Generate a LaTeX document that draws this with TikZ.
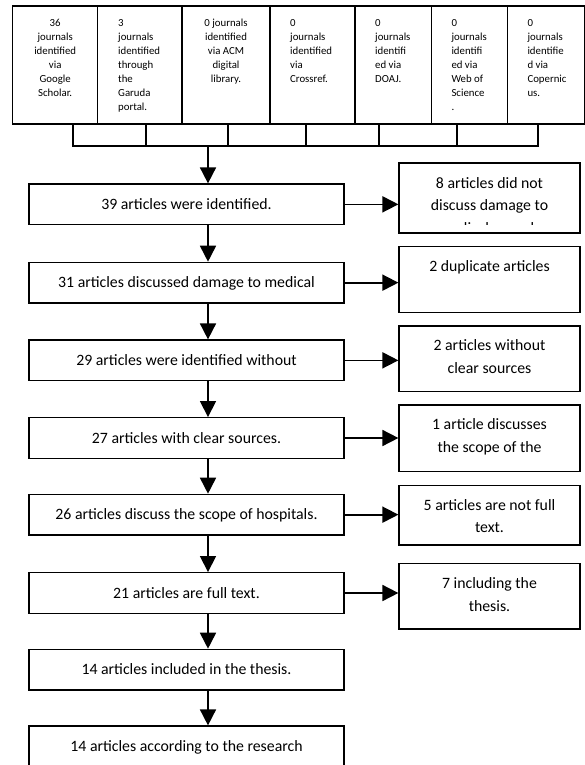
\documentclass[tikz,border=0pt]{standalone}
\usepackage{fontspec}
\setmainfont{Carlito}
\usetikzlibrary{arrows.meta,calc}
\begin{document}
\begin{tikzpicture}[x=1pt,y=-1pt,
  box/.style={draw=black,line width=1.2pt,rectangle,inner sep=0pt},
  mainbox/.style={box,minimum width=315pt,minimum height=40.7pt,font=\fontsize{15.8}{22.4}\selectfont,text height=12pt,text depth=1.6pt},
  sidebox/.style={box,minimum width=181pt},
  sidetext/.style={inner sep=0pt,text width=178pt,align=flush center,anchor=base,font=\fontsize{15.8}{22.4}\selectfont},
  topbox/.style={box,minimum height=118pt},
  toptext/.style={inner sep=0pt,font=\fontsize{10.8}{13.9}\selectfont},
  topleft/.style={toptext,text width=70pt,align=flush left,anchor=base west},
  topmid/.style={toptext,text width=80pt,align=flush center,anchor=base},
  link/.style={line width=1.7pt},
  arr/.style={link,-{Triangle[length=16pt,width=16pt]}}]
\useasboundingbox (0,0) rectangle (584,765);

% top sources row
\node[topbox,minimum width=85pt]   (t1) at (55.2,65) {};
\node[topbox,minimum width=84.3pt] (t2) at (139.85,65) {};
\node[topbox,minimum width=88pt]   (t3) at (226,65) {};
\node[topbox,minimum width=85pt]   (t4) at (312.5,65) {};
\node[topbox,minimum width=76.3pt] (t5) at (393.15,65) {};
\node[topbox,minimum width=76pt]   (t6) at (469.3,65) {};
\node[topbox,minimum width=77.7pt] (t7) at (546.15,65) {};

\node[topmid]  (l1) at (55.2,26.7) {36\\journals\\identified\\via\\Google\\Scholar.};
\node[topleft] (l2) at (118,26.7) {3\\journals\\identified\\through\\the\\Garuda\\portal.};
\node[topmid]  (l3) at (226,26.7) {0 journals\\identified\\via ACM\\digital\\library.};
\node[topleft] (l4) at (290,26.7) {0\\journals\\identified\\via\\Crossref.};
\node[topleft] (l5) at (375,26.7) {0\\journals\\identifi\\ed via\\DOAJ.};
\node[topleft] (l6) at (451.3,26.7) {0\\journals\\identifi\\ed via\\Web of\\Science\\.};
\node[topleft] (l7) at (527.3,26.7) {0\\journals\\identifie\\d via\\Copernic\\us.};

% bracket
\coordinate (c1) at (72.7,146);
\coordinate (c2) at (146,146);
\coordinate (c3) at (228,146);
\coordinate (c4) at (306,146);
\coordinate (c5) at (379,146);
\coordinate (c6) at (456.7,146);
\coordinate (c7) at (538,146);
\coordinate (hub) at (208,146);
\draw[link] (t1.south -| c1) -- (c1) -- (c7) -- (t7.south -| c7);
\draw[link] (t2.south -| c2) -- (c2);
\draw[link] (t3.south -| c3) -- (c3);
\draw[link] (t4.south -| c4) -- (c4);
\draw[link] (t5.south -| c5) -- (c5);
\draw[link] (t6.south -| c6) -- (c6);

% main column
\node[mainbox] (b1) at (186.5,204.35) {39 articles were identified.};
\node[mainbox] (b2) at (186.5,282.65) {31 articles discussed damage to medical};
\node[mainbox] (b3) at (186.5,360.35) {29 articles were identified without};
\node[mainbox] (b4) at (186.5,438) {27 articles with clear sources.};
\node[mainbox] (b5) at (186.5,514.65) {26 articles discuss the scope of hospitals.};
\node[mainbox] (b6) at (186.5,593) {21 articles are full text.};
\node[mainbox] (b7) at (186.5,669.65) {14 articles included in the thesis.};
\node[mainbox] (b8) at (186.5,746.35) {14 articles according to the research};

% side column
\node[sidebox,minimum height=70pt]   (s1) at (489.5,198) {};
\node[sidebox,minimum height=66pt]   (s2) at (489.5,279.7) {};
\node[sidebox,minimum height=65.7pt] (s3) at (489.5,358.85) {};
\node[sidebox,minimum height=66.7pt] (s4) at (489.5,438.35) {};
\node[sidebox,minimum height=59.7pt] (s5) at (489.5,515.15) {};
\node[sidebox,minimum height=65.7pt] (s6) at (489.5,596.15) {};

\begin{scope}
  \clip (s1.north west) rectangle ($(s1.south east)+(0,-9.5)$);
  \node[sidetext] (x1) at (489.5,188.4) {8 articles did not\\discuss damage to\\medical records};
\end{scope}
\node[sidetext] (x2) at (489.5,271.2) {2 duplicate articles};
\node[sidetext] (x3) at (489.5,350.6) {2 articles without\\clear sources};
\node[sidetext] (x4) at (489.5,429.8) {1 article discusses\\the scope of the};
\node[sidetext] (x5) at (489.5,510.4) {5 articles are not full\\text.};
\node[sidetext] (x6) at (489.5,588.7) {7 including the\\thesis.};

% arrows
\draw[arr] (hub) -- (b1.north -| hub);
\draw[arr] (b1.south -| hub) -- (b2.north -| hub);
\draw[arr] (b2.south -| hub) -- (b3.north -| hub);
\draw[arr] (b3.south -| hub) -- (b4.north -| hub);
\draw[arr] (b4.south -| hub) -- (b5.north -| hub);
\draw[arr] (b5.south -| hub) -- (b6.north -| hub);
\draw[arr] (b6.south -| hub) -- (b7.north -| hub);
\draw[arr] (b7.south -| hub) -- (b8.north -| hub);

\draw[arr] (b1.east) -- (b1.east -| s1.west);
\draw[arr] (b2.east) -- (b2.east -| s2.west);
\draw[arr] (b3.east) -- (b3.east -| s3.west);
\draw[arr] (b4.east) -- (b4.east -| s4.west);
\draw[arr] (b5.east) -- (b5.east -| s5.west);
\draw[arr] (b6.east) -- (b6.east -| s6.west);
\end{tikzpicture}
\end{document}
